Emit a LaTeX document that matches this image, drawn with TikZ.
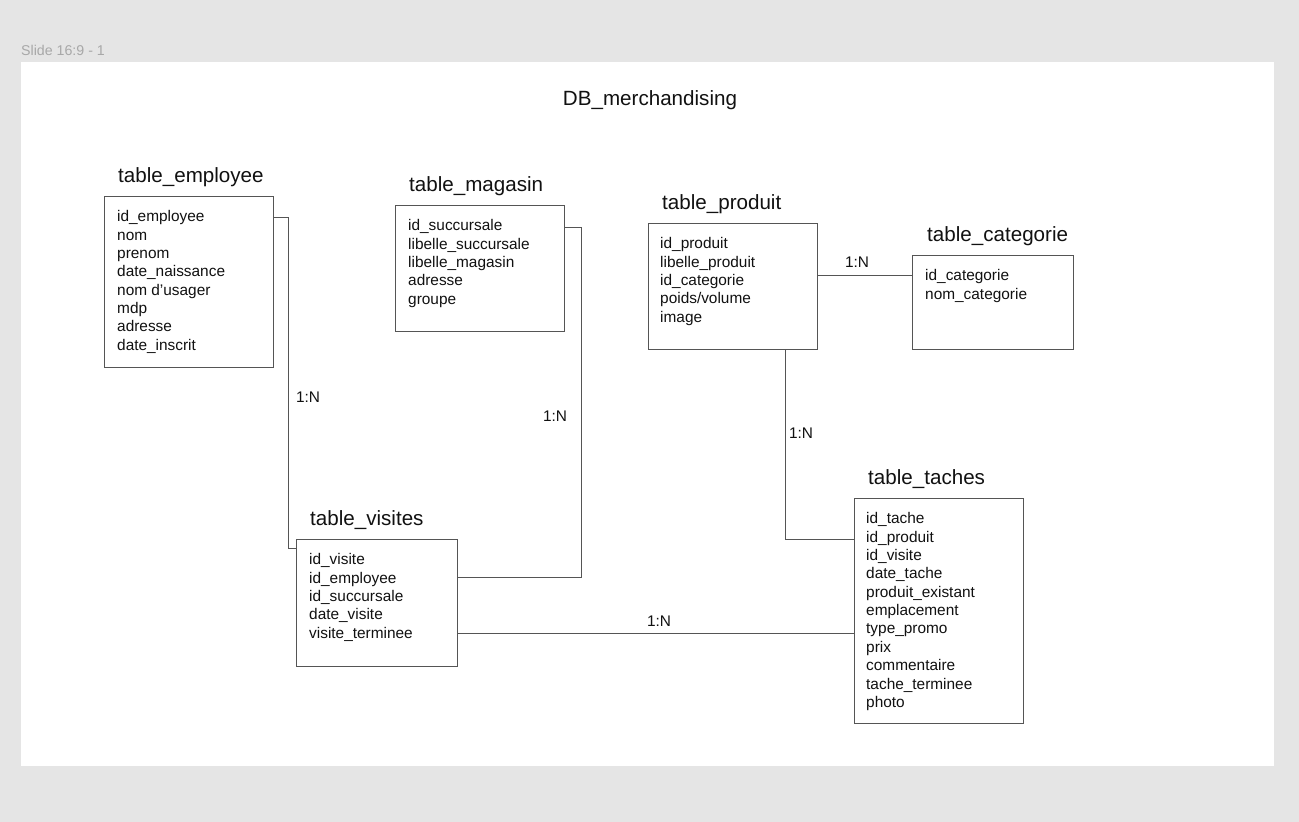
\documentclass[tikz,border=0pt]{standalone}
\usepackage{fontspec}
\setmainfont{Liberation Sans}
\definecolor{bggray}{HTML}{E5E5E5}
\definecolor{linegray}{HTML}{555555}
\definecolor{slidegray}{HTML}{A8A8A8}
\definecolor{txt}{HTML}{111111}
\begin{document}
\begin{tikzpicture}[x=1pt,y=-1pt,
  tbl/.style={draw=linegray, line width=1pt, anchor=north west, inner sep=0pt, outer sep=0pt},
  fields/.style={anchor=north west, inner sep=0pt, align=left, text=txt, font=\fontsize{15.4}{18.35}\selectfont},
  ttl/.style={anchor=base west, inner sep=0pt, text=txt, font=\fontsize{20.6}{24}\selectfont},
  card/.style={inner sep=0pt, text=txt, font=\fontsize{15.4}{18}\selectfont},
  conn/.style={draw=linegray, line width=1pt}]
% background and slide
\fill[bggray] (0,0) rectangle (1299,822);
\useasboundingbox (0,0) rectangle (1299,822);
\fill[white] (21,62) rectangle (1274,766);
\node[anchor=base west, inner sep=0pt, text=slidegray, font=\fontsize{14.2}{16}\selectfont] (slide) at (21,55) {Slide 16:9 - 1};
\node[anchor=base, inner sep=0pt, text=txt, font=\fontsize{20.6}{24}\selectfont] (dbtitle) at (650,105) {DB\_merchandising};

% tables
\node[tbl, minimum width=169pt, minimum height=171pt] (emp) at (104,196) {};
\node[ttl] (empT) at (118,182) {table\_employee};
\node[fields] (empF) at (117,210.5) {id\_employee\\nom\\prenom\\date\_naissance\\nom d’usager\\mdp\\adresse\\date\_inscrit};

\node[tbl, minimum width=169pt, minimum height=126pt] (mag) at (395,205) {};
\node[ttl] (magT) at (409,191) {table\_magasin};
\node[fields] (magF) at (408,219.5) {id\_succursale\\libelle\_succursale\\libelle\_magasin\\adresse\\groupe};

\node[tbl, minimum width=169pt, minimum height=126pt] (prod) at (648,223) {};
\node[ttl] (prodT) at (662,209) {table\_produit};
\node[fields] (prodF) at (660,237.5) {id\_produit\\libelle\_produit\\id\_categorie\\poids/volume\\image};

\node[tbl, minimum width=161pt, minimum height=94pt] (cat) at (912,255) {};
\node[ttl] (catT) at (927,241) {table\_categorie};
\node[fields] (catF) at (925,269.5) {id\_categorie\\nom\_categorie};

\node[tbl, minimum width=161pt, minimum height=127pt] (vis) at (296,539) {};
\node[ttl] (visT) at (310,525) {table\_visites};
\node[fields] (visF) at (309,553.5) {id\_visite\\id\_employee\\id\_succursale\\date\_visite\\visite\_terminee};

\node[tbl, minimum width=169pt, minimum height=225pt] (tach) at (854,498) {};
\node[ttl] (tachT) at (868,484) {table\_taches};
\node[fields] (tachF) at (866,512.5) {id\_tache\\id\_produit\\id\_visite\\date\_tache\\produit\_existant\\emplacement\\type\_promo\\prix\\commentaire\\tache\_terminee\\photo};

% connectors
\draw[conn] ([yshift=-21pt]emp.north east) -- ++(15,0) |- ([yshift=-9pt]vis.north west);
\draw[conn] ([yshift=-22pt]mag.north east) -- ++(17,0) |- ([yshift=-38pt]vis.north east);
\draw[conn] ([yshift=-52pt]prod.north east) -- ([yshift=-20pt]cat.north west);
\draw[conn] ([xshift=137pt]prod.south west) |- ([yshift=-41pt]tach.north west);
\draw[conn] ([yshift=-94pt]vis.north east) -- ([yshift=-135pt]tach.north west);

% cardinalities
\node[card] (c1) at (308,397) {1:N};
\node[card] (c2) at (555,416) {1:N};
\node[card] (c3) at (857,262) {1:N};
\node[card] (c4) at (801,433) {1:N};
\node[card] (c5) at (659,621) {1:N};
\end{tikzpicture}
\end{document}
